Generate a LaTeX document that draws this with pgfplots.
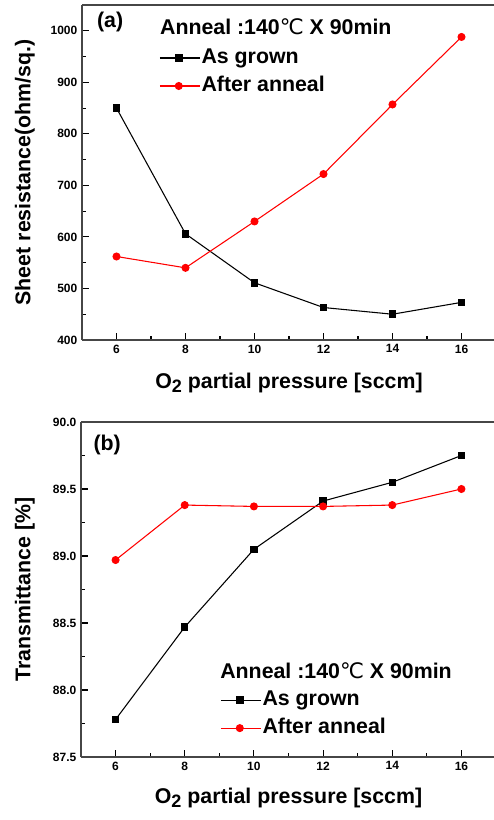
\documentclass[border=0pt]{standalone}
\usepackage{fontspec}
\setmainfont{Liberation Sans}
\newfontfamily\dejavu{DejaVu Sans}
\usepackage{pgfplots}
\pgfplotsset{compat=1.18}

\definecolor{myred}{RGB}{255,0,0}
\definecolor{framegray}{RGB}{70,70,70}

\newcommand{\otwo}{O\raisebox{-0.35ex}{\fontsize{13.5}{14}\selectfont 2}}
\newcommand{\anneal}{Anneal :140{\dejavu\mdseries ℃} X 90min}

\pgfplotsset{
  panel/.style={
    scale only axis,
    height=251.25pt,
    anchor=south west,
    axis x line*=bottom,
    axis y line*=left,
    xmin=5, xmax=17,
    xtick={6,8,...,16},
    minor x tick num=1,
    minor y tick num=1,
    tick align=inside,
    major tick length=5.5pt,
    minor tick length=3pt,
    axis line style={-, framegray, line width=1pt},
    tick style={black, line width=0.8pt},
    ticklabel style={font=\fontsize{9}{10.8}\selectfont\bfseries},
    /pgf/number format/assume math mode=true,
    /pgf/number format/set thousands separator={},
    label style={font=\fontsize{16}{18}\selectfont\bfseries},
    xlabel={\otwo{} partial pressure [sccm]},
    legend cell align=left,
    legend style={draw=none, fill=none, inner sep=0pt, anchor=west,
      font=\fontsize{16}{18}\selectfont\bfseries,
      row sep=3.5pt,
      nodes={inner sep=1pt, text height=12pt, text depth=3.5pt}},
    legend image code/.code={
      \draw[mark repeat=2,mark phase=2] plot coordinates {(0cm,0cm) (0.5cm,0cm) (1.05cm,0cm)};},
  },
  grown/.style={black, line width=0.8pt, mark=square*, mark size=2.4pt},
  after/.style={myred, line width=0.8pt, mark=*, mark size=2.6pt},
}

\begin{document}
\begin{tikzpicture}

% (a) sheet resistance
\begin{axis}[panel,
  at={(61.5pt,360pt)}, width=310.5pt,
  ymin=400, ymax=1050,
  ytick={400,500,...,1000},
  ylabel={Sheet resistance(ohm/sq.)},
  ylabel style={at={(axis description cs:-0.138,0.5)}, anchor=center},
  xlabel style={at={(axis description cs:0.5,-0.128)}, anchor=center},
  legend style={at={(axis description cs:0.186,0.800)}},
]
\addplot[grown] coordinates {(6,850) (8,606) (10,511) (12,463) (14,450) (16,473)};
\addlegendentry{As grown}
\addplot[after] coordinates {(6,562) (8,540) (10,630) (12,722) (14,857) (16,988)};
\addlegendentry{After anneal}
\draw[framegray, line width=1pt] (rel axis cs:0,1) -- (rel axis cs:1,1);
\node[anchor=center, font=\fontsize{16}{18}\selectfont\bfseries] at (rel axis cs:0.068,0.949) {(a)};
\node[anchor=west, inner sep=0pt, font=\fontsize{16}{18}\selectfont\bfseries] at (rel axis cs:0.188,0.934) {\anneal};
\end{axis}

% (b) transmittance
\begin{axis}[panel,
  at={(60.75pt,47.25pt)}, width=311.25pt,
  ymin=87.5, ymax=90,
  ytick={87.5,88,...,90},
  yticklabel style={/pgf/number format/.cd, fixed, fixed zerofill, precision=1},
  ylabel={Transmittance [\%]},
  ylabel style={at={(axis description cs:-0.135,0.5)}, anchor=center},
  xlabel style={at={(axis description cs:0.5,-0.122)}, anchor=center},
  legend style={at={(axis description cs:0.335,0.128)}},
]
\addplot[grown] coordinates {(6,87.78) (8,88.47) (10,89.05) (12,89.41) (14,89.55) (16,89.75)};
\addlegendentry{As grown}
\addplot[after] coordinates {(6,88.97) (8,89.38) (10,89.37) (12,89.37) (14,89.38) (16,89.50)};
\addlegendentry{After anneal}
\draw[framegray, line width=1pt] (rel axis cs:0,1) -- (rel axis cs:1,1);
\node[anchor=center, font=\fontsize{16}{18}\selectfont\bfseries] at (rel axis cs:0.063,0.931) {(b)};
\node[anchor=west, inner sep=0pt, font=\fontsize{16}{18}\selectfont\bfseries] at (rel axis cs:0.335,0.257) {\anneal};
\end{axis}

\pgfresetboundingbox
\useasboundingbox (0,0) rectangle (369.75pt,615pt);
\end{tikzpicture}
\end{document}
